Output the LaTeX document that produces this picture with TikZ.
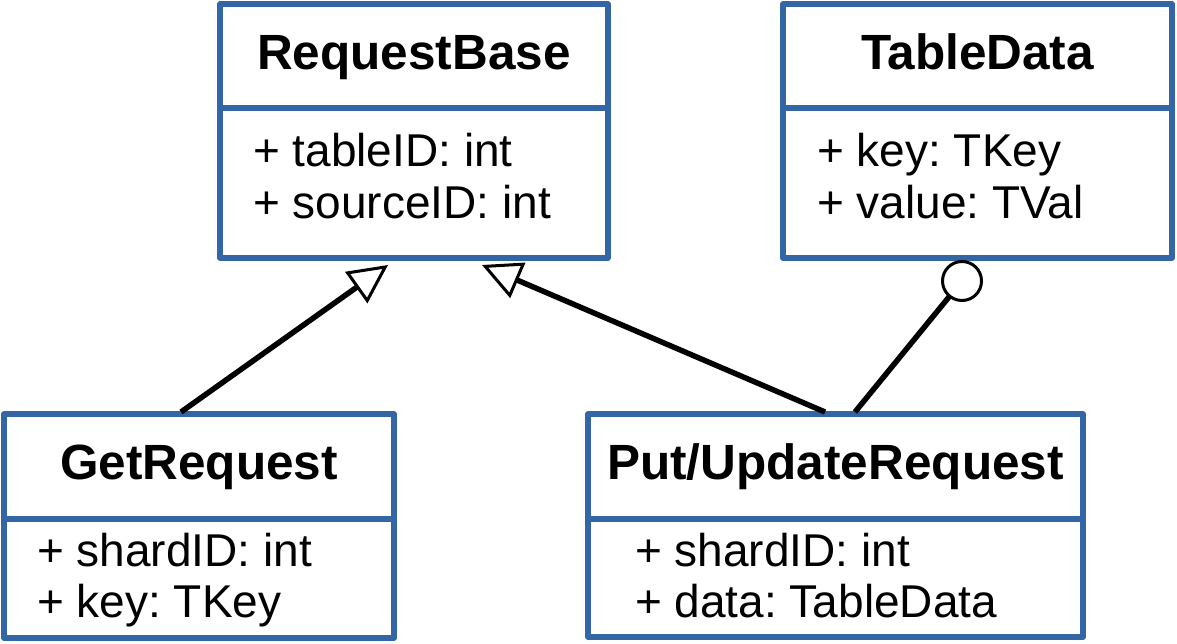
\documentclass[tikz,border=0pt]{standalone}
\usepackage{fontspec}
\setmainfont{Liberation Sans}
\usetikzlibrary{arrows.meta,calc}
\definecolor{umlblue}{HTML}{3465A4}
\frenchspacing
\tikzset{
  box/.style={draw=umlblue, line width=5.5pt, line join=round, rectangle, inner sep=0pt, outer sep=0pt, anchor=north west},
  ttl/.style={font=\fontsize{49.5}{56}\selectfont\bfseries, anchor=base, inner sep=0pt},
  attr/.style={font=\fontsize{46}{52}\selectfont, anchor=base west, inner sep=0pt},
  conn/.style={line width=5.5pt, black},
  inherit/.style={conn, -{Triangle[open, length=39pt, width=38pt, line width=3pt, fill=white]}},
  ball/.style={circle, draw=black, fill=white, line width=3pt, minimum size=39pt, inner sep=0pt, outer sep=0pt},
}
\begin{document}
\begin{tikzpicture}[x=1pt,y=-1pt]
\useasboundingbox (0,0) rectangle (1177,643);
% RequestBase
\node[box, minimum width=388pt, minimum height=104pt] (rbH) at (220,4) {};
\node[box, minimum width=388pt, minimum height=150pt] (rbB) at (220,108) {};
\node[ttl] (rbT) at (414,69) {RequestBase};
\node[attr] (rb1) at (253,166) {+ tableID: int};
\node[attr] (rb2) at (253,218) {+ sourceID: int};
% TableData
\node[box, minimum width=389pt, minimum height=104pt] (tdH) at (783,4) {};
\node[box, minimum width=389pt, minimum height=150pt] (tdB) at (783,108) {};
\node[ttl] (tdT) at (977.5,69) {TableData};
\node[attr] (td1) at (817,166) {+ key: TKey};
\node[attr] (td2) at (817,218) {+ value: TVal};
% GetRequest
\node[box, minimum width=390pt, minimum height=105pt] (grH) at (4,414) {};
\node[box, minimum width=390pt, minimum height=119pt] (grB) at (4,519) {};
\node[ttl] (grT) at (199,479) {GetRequest};
\node[attr] (gr1) at (37,566) {+ shardID: int};
\node[attr] (gr2) at (37,617) {+ key: TKey};
% Put/UpdateRequest
\node[box, minimum width=495pt, minimum height=105pt] (puH) at (588,414) {};
\node[box, minimum width=495pt, minimum height=118pt] (puB) at (588,519) {};
\node[ttl] (puT) at (835.5,479) {Put/UpdateRequest};
\node[attr] (pu1) at (635,566) {+ shardID: int};
\node[attr] (pu2) at (635,617) {+ data: TableData};
% connectors
\coordinate (grTop) at ([xshift=177pt,yshift=2pt]grH.north west);
\coordinate (rbTipA) at ([xshift=168pt,yshift=-7pt]rbB.south west);
\coordinate (puTopA) at ([xshift=237pt,yshift=2pt]puH.north west);
\coordinate (rbTipB) at ([xshift=262pt,yshift=-7pt]rbB.south west);
\coordinate (puTopB) at ([xshift=267pt,yshift=2pt]puH.north west);
\node[ball] (agg) at ([xshift=179pt,yshift=-23pt]tdB.south west) {};
\draw[inherit] (grTop) -- (rbTipA);
\draw[inherit] (puTopA) -- (rbTipB);
\draw[conn] (puTopB) -- (agg);
\end{tikzpicture}
\end{document}
